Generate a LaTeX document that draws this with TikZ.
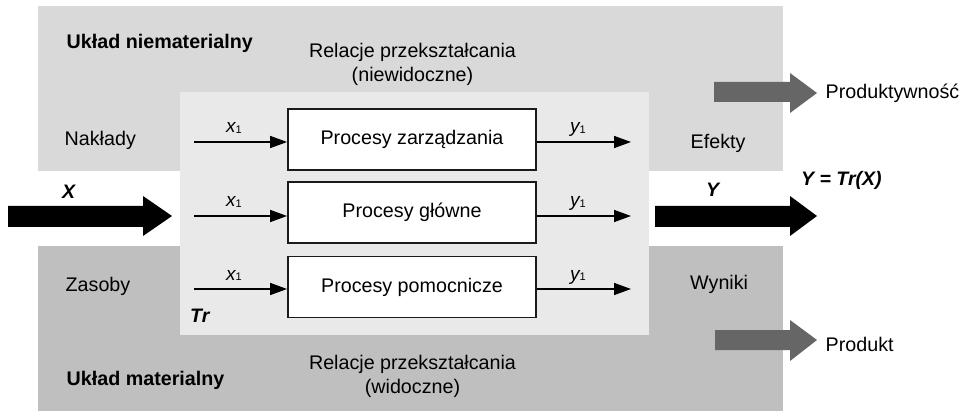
\documentclass[tikz,border=0pt]{standalone}
\usepackage{fontspec}
\setmainfont{Liberation Sans}
\usetikzlibrary{arrows.meta}
\definecolor{topgray}{HTML}{D9D9D9}
\definecolor{botgray}{HTML}{BFBFBF}
\definecolor{ingray}{HTML}{E9E9E9}
\definecolor{arrgray}{HTML}{666666}
\definecolor{boxline}{HTML}{1A1A1A}
\newcommand{\mysub}[1]{\raisebox{-1pt}{\fontsize{11}{11}\selectfont\upshape #1}}
\tikzset{
  lbl/.style={font=\fontsize{19.7}{24}\selectfont, inner sep=0pt, anchor=base west},
  lblc/.style={font=\fontsize{19.7}{24}\selectfont, inner sep=0pt, anchor=base},
  blbl/.style={font=\fontsize{19.7}{24}\selectfont\bfseries, inner sep=0pt, anchor=base west},
  bilbl/.style={font=\fontsize{19.5}{21}\selectfont\bfseries\itshape, inner sep=0pt, anchor=base west},
  var/.style={font=\fontsize{19}{20}\selectfont\itshape, inner sep=0pt, anchor=base west},
  procbox/.style={draw=boxline, line width=1.8pt, fill=white, minimum width=248pt,
    minimum height=61pt, font=\fontsize{19.7}{24}\selectfont, inner sep=0pt},
  flow/.style={line width=1.5pt, -{Triangle[length=17pt,width=12pt]}},
}
\begin{document}
\begin{tikzpicture}[x=1pt,y=-1pt]
\useasboundingbox (0,0) rectangle (968,411);
% regions
\fill[topgray] (38,6) rectangle (783,171);
\fill[botgray] (38,246) rectangle (783,411);
\fill[ingray] (180,92) rectangle (649,335);
% process boxes
\node[procbox] (b1) at (412,139.5) {Procesy zarządzania};
\node[procbox] (b2) at (412,212.5) {Procesy główne};
\node[procbox] (b3) at (412,287) {Procesy pomocnicze};
% inputs / outputs
\coordinate (in1) at (194,142);
\coordinate (in2) at (194,216);
\coordinate (in3) at (194,289);
\coordinate (out1) at (631,142);
\coordinate (out2) at (631,216);
\coordinate (out3) at (631,289);
\draw[flow] (in1) -- (b1.west |- in1);
\draw[flow] (in2) -- (b2.west |- in2);
\draw[flow] (in3) -- (b3.west |- in3);
\draw[flow] (b1.east |- out1) -- (out1);
\draw[flow] (b2.east |- out2) -- (out2);
\draw[flow] (b3.east |- out3) -- (out3);
\node[var] (x1a) at (226,133) {x\mysub{1}};
\node[var] (x1b) at (226,207) {x\mysub{1}};
\node[var] (x1c) at (226,280) {x\mysub{1}};
\node[var] (y1a) at (570,133) {y\mysub{1}};
\node[var] (y1b) at (570,207) {y\mysub{1}};
\node[var] (y1c) at (570,280) {y\mysub{1}};
% big black arrows
\fill[black] (8,206) -- (143,206) -- (143,196) -- (172,216) -- (143,236) -- (143,227) -- (8,227) -- cycle;
\fill[black] (655,206) -- (790,206) -- (790,196) -- (817,216) -- (790,236) -- (790,227) -- (655,227) -- cycle;
% gray arrows
\fill[arrgray] (714,82) -- (790,82) -- (790,73) -- (817,93) -- (790,113) -- (790,102) -- (714,102) -- cycle;
\fill[arrgray] (715,330) -- (790,330) -- (790,320) -- (817,340) -- (790,361) -- (790,350) -- (715,350) -- cycle;
% labels
\node[blbl] (unm) at (66.5,49) {Układ niematerialny};
\node[blbl] (um) at (66.5,385) {Układ materialny};
\node[lblc] (rel1) at (412.5,58) {Relacje przekształcania};
\node[lblc] (rel1b) at (412.5,82) {(niewidoczne)};
\node[lblc] (rel2) at (412.5,369) {Relacje przekształcania};
\node[lblc] (rel2b) at (412.5,393) {(widoczne)};
\node[lbl] (nak) at (64.5,146) {Nakłady};
\node[lbl] (zas) at (65.5,292) {Zasoby};
\node[lbl] (efe) at (690.5,149) {Efekty};
\node[lbl] (wyn) at (690,290) {Wyniki};
\node[lbl] (prod1) at (825.5,99) {Produktywność};
\node[lbl] (prod2) at (825.5,351) {Produkt};
\node[bilbl] (X) at (62,199) {X};
\node[bilbl] (Y) at (706,197) {Y};
\node[bilbl] (YTr) at (801,186) {Y = Tr(X)};
\node[bilbl] (Tr) at (190,323) {Tr};
\end{tikzpicture}
\end{document}
